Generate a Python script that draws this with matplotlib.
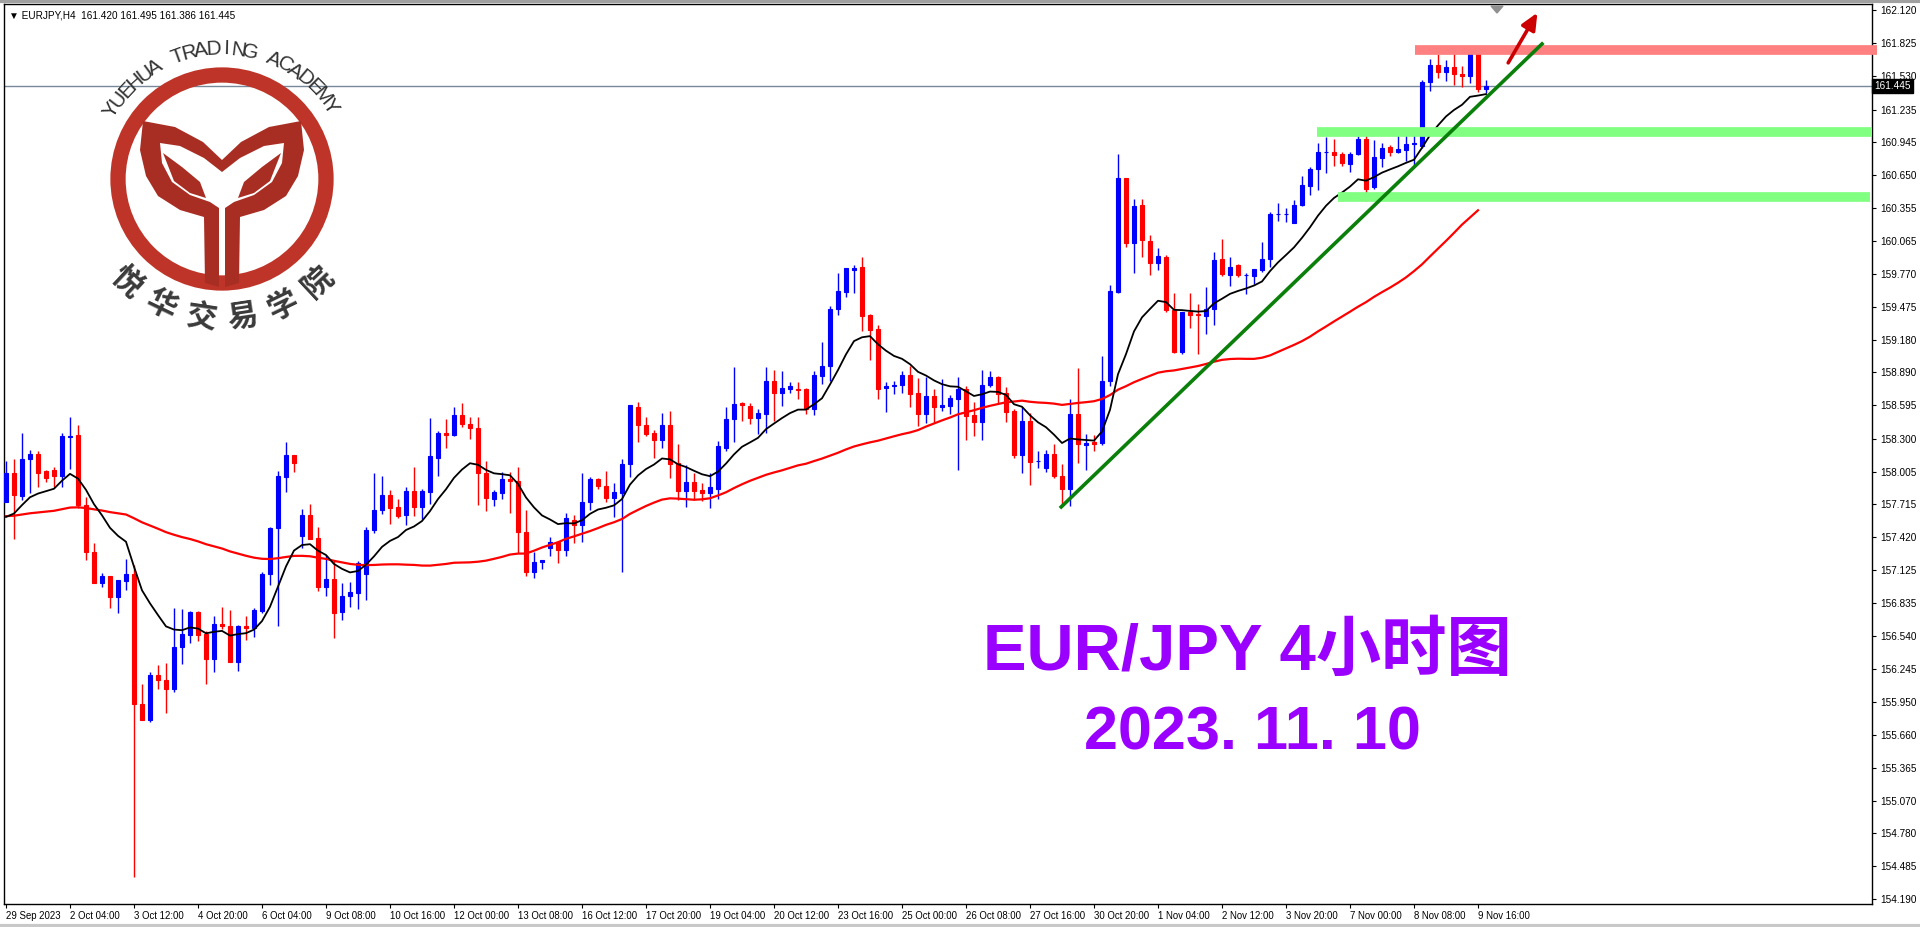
import numpy as np
import pandas as pd
import matplotlib
matplotlib.use("Agg")
import matplotlib.pyplot as plt
from matplotlib.patches import Circle, Polygon

# H4 candles, 29 Sep 2023 .. 9 Nov 20:00
opens = [157.73,157.99,157.79,158.12,158.16,158.01,158.02,157.97,158.31,158.33,
         157.71,157.29,157.01,157.07,156.89,157.03,157.09,155.93,155.79,156.19,
         156.15,156.07,156.44,156.55,156.75,156.56,156.33,156.65,156.63,156.31,
         156.63,156.61,156.76,157.09,157.50,157.96,158.15,157.43,157.62,157.41,
         156.98,157.05,156.75,156.90,156.92,157.09,157.48,157.66,157.80,157.69,
         157.62,157.83,157.69,157.82,158.13,158.35,158.33,158.51,158.43,158.39,
         157.99,157.76,157.81,157.94,157.92,157.47,157.11,157.20,157.32,157.38,
         157.31,157.57,157.53,157.73,157.94,157.88,157.77,157.81,158.07,158.58,
         158.42,158.35,158.29,158.42,158.08,157.83,157.91,157.84,157.81,157.85,
         158.22,158.47,158.62,158.59,158.48,158.52,158.81,158.71,158.74,158.74,
         158.74,158.56,158.86,158.95,159.46,159.61,159.80,159.83,159.40,159.28,
         158.75,158.77,158.78,158.87,158.71,158.52,158.68,158.58,158.59,158.65,
         158.74,158.51,158.45,158.78,158.85,158.71,158.55,158.15,158.46,158.10,
         158.04,158.16,157.97,157.85,158.52,158.24,158.27,158.26,158.81,159.61,
         160.62,160.04,160.38,160.06,159.87,159.92,159.45,159.07,159.43,159.41,
         159.39,159.46,159.90,159.76,159.85,159.76,159.75,159.80,159.90,160.30,
         160.30,160.22,160.38,160.55,160.70,160.86,160.86,160.84,160.75,160.84,
         160.97,160.54,160.80,160.90,160.86,160.87,160.93,160.91,161.48,161.63,
         161.57,161.61,161.55,161.53,161.74,161.420]
highs = [158.10,158.12,158.35,158.20,158.19,158.02,158.05,158.35,158.49,158.42,
         157.78,157.37,157.10,157.07,157.04,157.23,157.17,156.11,156.22,156.28,
         156.30,156.79,156.78,156.76,156.76,156.58,156.72,156.80,156.77,156.64,
         156.72,156.79,157.11,157.51,158.01,158.27,158.15,157.67,157.72,157.51,
         157.26,157.22,157.01,157.02,157.21,157.51,157.99,157.97,157.84,157.76,
         157.87,158.05,157.85,158.48,158.37,158.47,158.58,158.62,158.49,158.49,
         158.10,157.84,158.00,158.00,158.05,157.66,157.29,157.22,157.42,157.39,
         157.64,157.62,157.99,157.96,157.95,158.01,157.90,158.12,158.60,158.63,
         158.49,158.38,158.53,158.55,158.25,158.06,157.99,157.90,157.99,158.28,
         158.58,158.94,158.63,158.62,158.56,158.94,158.91,158.90,158.80,158.80,
         158.75,158.90,159.16,159.48,159.78,159.82,159.85,159.92,159.41,159.31,
         158.80,158.81,158.90,158.95,158.84,158.85,158.74,158.83,158.69,158.85,
         158.77,158.63,158.91,158.90,158.86,158.76,158.56,158.58,158.53,158.19,
         158.20,158.25,158.07,158.65,158.93,158.34,158.33,159.04,159.67,160.84,
         160.62,160.44,160.44,160.12,160.00,159.94,159.60,159.43,159.60,159.50,
         159.65,159.96,160.08,159.92,159.86,159.78,159.81,160.05,160.32,160.40,
         160.36,160.43,160.64,160.72,160.94,160.99,160.97,160.86,160.86,161.00,
         161.03,160.96,160.94,160.92,161.01,161.04,161.03,161.50,161.69,161.73,
         161.68,161.74,161.62,161.80,161.77,161.495]
lows = [157.73,157.40,157.75,157.81,157.87,157.91,157.87,157.87,158.03,157.68,
        157.22,157.01,156.98,156.79,156.74,156.95,154.39,155.79,155.77,156.07,
        155.85,156.04,156.29,156.48,156.49,156.11,156.22,156.60,156.31,156.23,
        156.50,156.53,156.74,156.99,156.63,157.82,158.00,157.32,157.40,156.94,
        156.90,156.52,156.68,156.80,156.78,156.86,157.46,157.63,157.54,157.59,
        157.53,157.61,157.58,157.72,157.97,158.22,158.32,158.40,158.30,157.71,
        157.65,157.70,157.76,157.64,157.28,157.07,157.06,157.14,157.25,157.19,
        157.25,157.37,157.38,157.66,157.85,157.73,157.60,157.11,157.96,158.27,
        158.32,158.13,158.22,157.95,157.75,157.69,157.75,157.74,157.68,157.76,
        158.19,158.27,158.46,158.43,158.34,158.35,158.46,158.59,158.71,158.65,
        158.52,158.51,158.79,158.81,159.40,159.56,159.60,159.26,159.00,158.65,
        158.54,158.70,158.71,158.58,158.41,158.44,158.44,158.55,158.52,158.02,
        158.29,158.32,158.29,158.76,158.62,158.45,158.13,157.99,157.89,158.04,
        158.00,157.95,157.71,157.70,158.08,158.02,158.19,158.24,158.77,159.60,
        160.01,159.78,159.92,159.76,159.80,159.43,159.06,159.05,159.29,159.05,
        159.23,159.31,159.75,159.66,159.74,159.59,159.68,159.79,159.83,160.24,
        160.23,160.22,160.37,160.47,160.52,160.67,160.73,160.73,160.68,160.83,
        160.42,160.53,160.72,160.82,160.85,160.78,160.73,160.89,161.40,161.52,
        161.49,161.45,161.44,161.47,161.39,161.386]
closes = [157.99,157.80,158.12,158.16,157.99,157.95,157.97,158.32,158.32,157.71,
          157.29,157.01,157.07,156.89,157.04,157.09,155.93,155.79,156.19,156.15,
          156.07,156.44,156.56,156.75,156.55,156.33,156.65,156.63,156.31,156.63,
          156.61,156.77,157.09,157.50,157.97,158.15,158.08,157.62,157.40,156.98,
          157.05,156.74,156.90,156.93,157.19,157.48,157.66,157.80,157.68,157.61,
          157.83,157.69,157.83,158.14,158.35,158.33,158.51,158.43,158.39,157.99,
          157.77,157.82,157.94,157.92,157.47,157.11,157.20,157.22,157.38,157.31,
          157.59,157.53,157.73,157.94,157.88,157.77,157.82,158.07,158.60,158.42,
          158.34,158.29,158.42,158.07,157.83,157.91,157.83,157.81,157.87,158.23,
          158.47,158.61,158.60,158.48,158.53,158.81,158.71,158.75,158.77,158.73,
          158.56,158.87,158.95,159.46,159.62,159.82,159.82,159.39,159.27,158.74,
          158.77,158.78,158.87,158.70,158.52,158.68,158.58,158.60,158.66,158.74,
          158.50,158.45,158.78,158.85,158.70,158.54,158.15,158.46,158.09,158.10,
          158.16,157.97,157.85,158.52,158.25,158.26,158.25,158.81,159.62,160.62,
          160.04,160.37,160.07,159.87,159.93,159.45,159.07,159.43,159.40,159.40,
          159.46,159.89,159.77,159.83,159.76,159.76,159.81,159.90,160.30,160.30,
          160.30,160.38,160.56,160.70,160.86,160.86,160.83,160.76,160.84,160.97,
          160.53,160.81,160.89,160.86,160.88,160.93,160.94,161.48,161.63,161.57,
          161.61,161.55,161.53,161.74,161.42,161.445]

time_labels = ["29 Sep 2023", "2 Oct 04:00", "3 Oct 12:00", "4 Oct 20:00", "6 Oct 04:00",
               "9 Oct 08:00", "10 Oct 16:00", "12 Oct 00:00", "13 Oct 08:00", "16 Oct 12:00",
               "17 Oct 20:00", "19 Oct 04:00", "20 Oct 12:00", "23 Oct 16:00", "25 Oct 00:00",
               "26 Oct 08:00", "27 Oct 16:00", "30 Oct 20:00", "1 Nov 04:00", "2 Nov 12:00",
               "3 Nov 20:00", "7 Nov 00:00", "8 Nov 08:00", "9 Nov 16:00"]
price_ticks = [162.120, 161.825, 161.530, 161.235, 160.945, 160.650, 160.355, 160.065,
               159.770, 159.475, 159.180, 158.890, 158.595, 158.300, 158.005, 157.715,
               157.420, 157.125, 156.835, 156.540, 156.245, 155.950, 155.660, 155.365,
               155.070, 154.780, 154.485, 154.190]

last_price = 161.445
resistance = 161.77
supports = [161.035, 160.455]
trend_pts = ([131.9, 192.0], [157.69, 161.82])
arrow_pts = ([187.6, 191.6], [161.63, 162.12])
fast_seed = 157.53   # fast MA value at the left edge
slow_seed = 157.60   # level of the history before the first bar (slow MA)

o = np.array(opens); h = np.array(highs); l = np.array(lows); c = np.array(closes)
x = np.arange(len(c))
h = np.maximum(h, np.maximum(o, c)); l = np.minimum(l, np.minimum(o, c))

fast = pd.Series(np.r_[fast_seed, c]).ewm(span=12, adjust=False).mean().values[1:]
slow = pd.Series(np.r_[np.full(50, slow_seed), c]).rolling(50).mean().values[50:]

W, H = 1920, 927
fig = plt.figure(figsize=(W / 100, H / 100), dpi=100)
fig.patch.set_facecolor("white")
L, R, T, B = 4, 1872, 4, 904
ax = fig.add_axes([L / W, (H - B) / H, (R - L) / W, (B - T) / H])
x0 = (L - 6) / 8; x1 = (R - 6) / 8
ax.set_xlim(x0, x1)
ytop = 162.12 + 6.3 * 0.00892
ybot = 162.12 - (B - 10.3) * 0.00892
ax.set_ylim(ybot, ytop)

up = c >= o
cols = np.where(up, "#0000FF", "#FF0000")
ax.vlines(x, l, h, colors=cols, lw=1, zorder=3)
ax.bar(x, np.abs(c - o), bottom=np.minimum(o, c), width=0.62, color=cols,
       edgecolor=cols, linewidth=0.8, zorder=3)

ax.plot(x[:-1], slow[:-1], color="#FF0000", lw=1.6, zorder=4)
ax.plot(x, fast, color="black", lw=1.3, zorder=4)

ax.axhline(last_price, color="#778899", lw=1, zorder=2)
ax.plot([(1415 - 6) / 8, (1877 - 6) / 8], [resistance] * 2, color="#FF8080",
        lw=7, solid_capstyle="butt", zorder=5, clip_on=False)
ax.plot([(1317 - 6) / 8, x1], [supports[0]] * 2, color="#80FF80", lw=7,
        solid_capstyle="butt", zorder=5)
ax.plot([(1338 - 6) / 8, (1870 - 6) / 8], [supports[1]] * 2, color="#80FF80", lw=7,
        solid_capstyle="butt", zorder=5)
ax.plot(*trend_pts, color="#0A800A", lw=2.6, zorder=6)
ax.annotate("", xy=(arrow_pts[0][1], arrow_pts[1][1]), xytext=(arrow_pts[0][0], arrow_pts[1][0]),
            arrowprops=dict(arrowstyle="-|>,head_width=0.45,head_length=1.0",
                            color="#CC0000", lw=2.6), zorder=6)

ax.set_xticks(x[::8][:len(time_labels)])
ax.set_xticklabels(time_labels, ha="left", fontsize=6.9, family="Liberation Sans")
ax.tick_params(axis="x", length=3, pad=2)
ax.yaxis.tick_right()
ax.set_yticks(price_ticks)
ax.set_yticklabels([f"{p:.3f}" for p in price_ticks], fontsize=7.2, family="Liberation Sans")
ax.tick_params(axis="y", length=3, pad=3)
for s in ax.spines.values():
    s.set_color("black"); s.set_linewidth(1)
ax.text(x1 + 0.25, last_price, f"{last_price:.3f}", ha="left", va="center",
        fontsize=7.2, color="white", zorder=10, clip_on=False, family="Liberation Sans",
        bbox=dict(boxstyle="square,pad=0.2", fc="black", ec="black"))
ax.text(0.0025, 0.993, "\u25bc EURJPY,H4  161.420 161.495 161.386 161.445", transform=ax.transAxes,
        ha="left", va="top", fontsize=7.2, family="Liberation Sans")

# overlay in pixel coordinates for logo and captions
ov = fig.add_axes([0, 0, 1, 1], zorder=5)
ov.set_xlim(0, W); ov.set_ylim(H, 0); ov.axis("off")
ov.plot([0, W], [1, 1], color="#A0A0A0", lw=3)
ov.plot([0, W], [926, 926], color="#C8C8C8", lw=3)
ov.add_patch(Polygon([[1491, 6], [1503, 6], [1497, 13]], color="#909090"))

cx, cy, r = 222, 179, 104
ov.add_patch(Circle((cx, cy), r, fill=False, ec="#BE3428", lw=11))
red = "#A82E24"
outer = [(143, 121), (175, 127), (203, 142), (222, 160), (222, 172), (204, 158), (180, 146),
         (160, 143), (162, 163), (172, 182), (190, 195), (210, 202), (219, 208), (219, 287),
         (205, 283), (204, 217), (180, 210), (158, 196), (146, 176), (140, 150)]
leaf = [(163, 153), (182, 167), (200, 182), (206, 198), (190, 193), (174, 181)]
for sgn in (-1, 1):
    for shape in (outer, leaf):
        pts = [(cx + sgn * (px - cx), py) for px, py in shape]
        ov.add_patch(Polygon(pts, closed=True, fc=red, ec="none"))

top_txt = "YUEHUA TRADING ACADEMY"
for i, ch in enumerate(top_txt):
    th = np.radians(148 - i * (114 / (len(top_txt) - 1)))
    ov.text(cx + 130 * np.cos(th), cy - 130 * np.sin(th), ch, rotation=np.degrees(th) - 90,
            ha="center", va="center", fontsize=15, color="#333333", family="Liberation Sans")
bot_txt = "悦华交易学院"
for i, ch in enumerate(bot_txt):
    th = np.radians(-133 + i * (86 / (len(bot_txt) - 1)))
    ov.text(cx + 140 * np.cos(th), cy - 140 * np.sin(th), ch, rotation=np.degrees(th) + 90,
            ha="center", va="center", fontsize=22, fontweight="bold", color="#3A3A3A",
            family=["Noto Sans CJK SC", "DejaVu Sans"])

purple = "#9A00FF"
ov.text(1247, 652, "EUR/JPY 4小时图", ha="center", va="center", fontsize=47, fontweight="bold",
        color=purple, family=["Liberation Sans", "Noto Sans CJK SC"])
ov.text(1252, 734, "2023. 11. 10", ha="center", va="center", fontsize=44, fontweight="bold",
        color=purple, family=["Liberation Sans", "Noto Sans CJK SC"])

fig.savefig("out.png", dpi=100, facecolor="white")
